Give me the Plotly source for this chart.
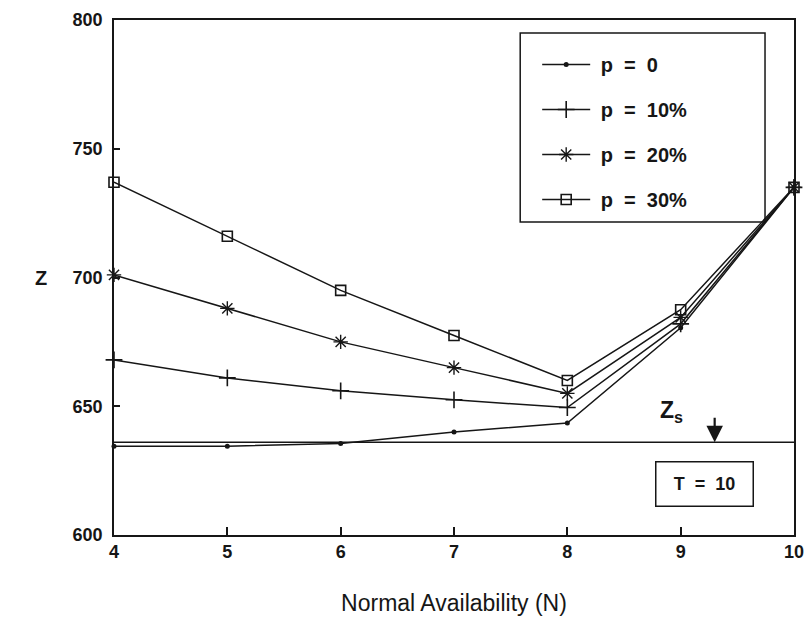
import plotly.graph_objects as go

# ---- data ----
N = [4, 5, 6, 7, 8, 9, 10]
z_p0 = [634.5, 634.5, 635.5, 640, 643.5, 680.5, 735]
z_p10 = [668, 661, 656, 652.5, 649.5, 682, 735]
z_p20 = [701, 688, 675, 665, 655, 684.5, 735]
z_p30 = [737, 716, 695, 677.5, 660, 687.5, 735]
series_names = ["\u00a0p\u00a0\u00a0=\u00a0\u00a00", "\u00a0p\u00a0\u00a0=\u00a0\u00a010%",
                "\u00a0p\u00a0\u00a0=\u00a0\u00a020%", "\u00a0p\u00a0\u00a0=\u00a0\u00a030%"]
y_ticks = [600, 650, 700, 750, 800]
ZS = 636          # Zs level
ZS_N = 9.3        # where the Zs arrow points
T_LABEL = "T\u00a0\u00a0=\u00a0\u00a010"

INK = "#161616"
FONT = "Liberation Sans"

marker_styles = [
    dict(symbol="circle", size=5, color=INK, line=dict(color=INK, width=0)),
    dict(symbol="cross-thin-open", size=12, color=INK, line=dict(color=INK, width=1.6)),
    dict(symbol="asterisk-open", size=12, color=INK, line=dict(color=INK, width=1.4)),
    dict(symbol="square-open", size=10, color=INK, line=dict(color=INK, width=1.6)),
]

fig = go.Figure()

# Zs reference line
fig.add_trace(go.Scatter(x=[N[0], N[-1]], y=[ZS, ZS], mode="lines",
                         line=dict(color=INK, width=1.5), showlegend=False,
                         hoverinfo="skip"))

for i, (name, z, m) in enumerate(zip(series_names, [z_p0, z_p10, z_p20, z_p30], marker_styles)):
    fig.add_trace(go.Scatter(x=N, y=z, mode="lines+markers", name=name,
                             legendgroup=f"g{i}",
                             line=dict(color=INK, width=1.5), marker=m,
                             cliponaxis=False))

# plot area in page pixels: x 113.5..794, y 20..535 (page body has 8px margin)
PX0, PX1, PY0, PY1 = 113.5, 794.0, 20.0, 535.0


def px(xp):
    return (xp - PX0) / (PX1 - PX0)


def py(yp):
    return (PY1 - yp) / (PY1 - PY0)


# legend frame
fig.add_shape(type="rect", xref="paper", yref="paper", x0=px(520), x1=px(765),
              y0=py(222), y1=py(33),
              line=dict(color=INK, width=1.5), fillcolor="white", layer="below")

# Zs arrow and label
fig.add_annotation(x=ZS_N, y=ZS, xref="x", yref="y", ax=0, ay=-26, text="",
                   showarrow=True, arrowhead=2, arrowsize=1.5, arrowwidth=2.2,
                   arrowcolor=INK)
fig.add_annotation(x=8.92, y=648, xref="x", yref="y", text="Z<sub>s</sub>",
                   showarrow=False, font=dict(family=FONT, size=23, color=INK, weight="bold"))

# T = 10 box
fig.add_annotation(x=9.21, y=620, xref="x", yref="y", text=T_LABEL, showarrow=False,
                   bordercolor=INK, borderwidth=1.5, borderpad=6, width=84, height=31,
                   bgcolor="white",
                   font=dict(family=FONT, size=18, color=INK, weight="bold"))

# Y label "Z"
fig.add_annotation(x=px(40), y=700, xref="paper", yref="y", text="Z", xanchor="center",
                   showarrow=False, font=dict(family=FONT, size=20, color=INK, weight="bold"))

fig.update_layout(
    width=812, height=620,
    margin=dict(l=PX0 - 8, r=812 - (PX1 - 8), t=PY0 - 8, b=620 - (PY1 - 8)),
    paper_bgcolor="white", plot_bgcolor="white",
    font=dict(family=FONT, color=INK),
    showlegend=True,
    legend=dict(x=px(537), y=py(45), xanchor="left", yanchor="top",
                bgcolor="rgba(0,0,0,0)", borderwidth=0,
                font=dict(family=FONT, size=20, color=INK, weight="bold"),
                itemwidth=48, tracegroupgap=16, traceorder="grouped"),
    xaxis=dict(range=[4, 10], tickvals=N, ticks="inside", ticklen=8, tickwidth=1.5,
               tickcolor=INK, showline=True, mirror=True, linecolor=INK, linewidth=1.5,
               showgrid=False, zeroline=False, automargin=False,
               tickfont=dict(family=FONT, size=18, color=INK, weight="bold"),
               title=dict(text="Normal Availability (N)", standoff=34,
                          font=dict(family=FONT, size=23, color=INK))),
    yaxis=dict(range=[600, 800], tickvals=y_ticks, ticks="inside", ticklen=6, tickwidth=1.5,
               tickcolor=INK, showline=True, mirror=True, linecolor=INK, linewidth=1.5,
               showgrid=False, zeroline=False, ticklabelstandoff=6, automargin=False,
               tickfont=dict(family=FONT, size=18, color=INK, weight="bold")),
)

fig.write_html("out.html")
